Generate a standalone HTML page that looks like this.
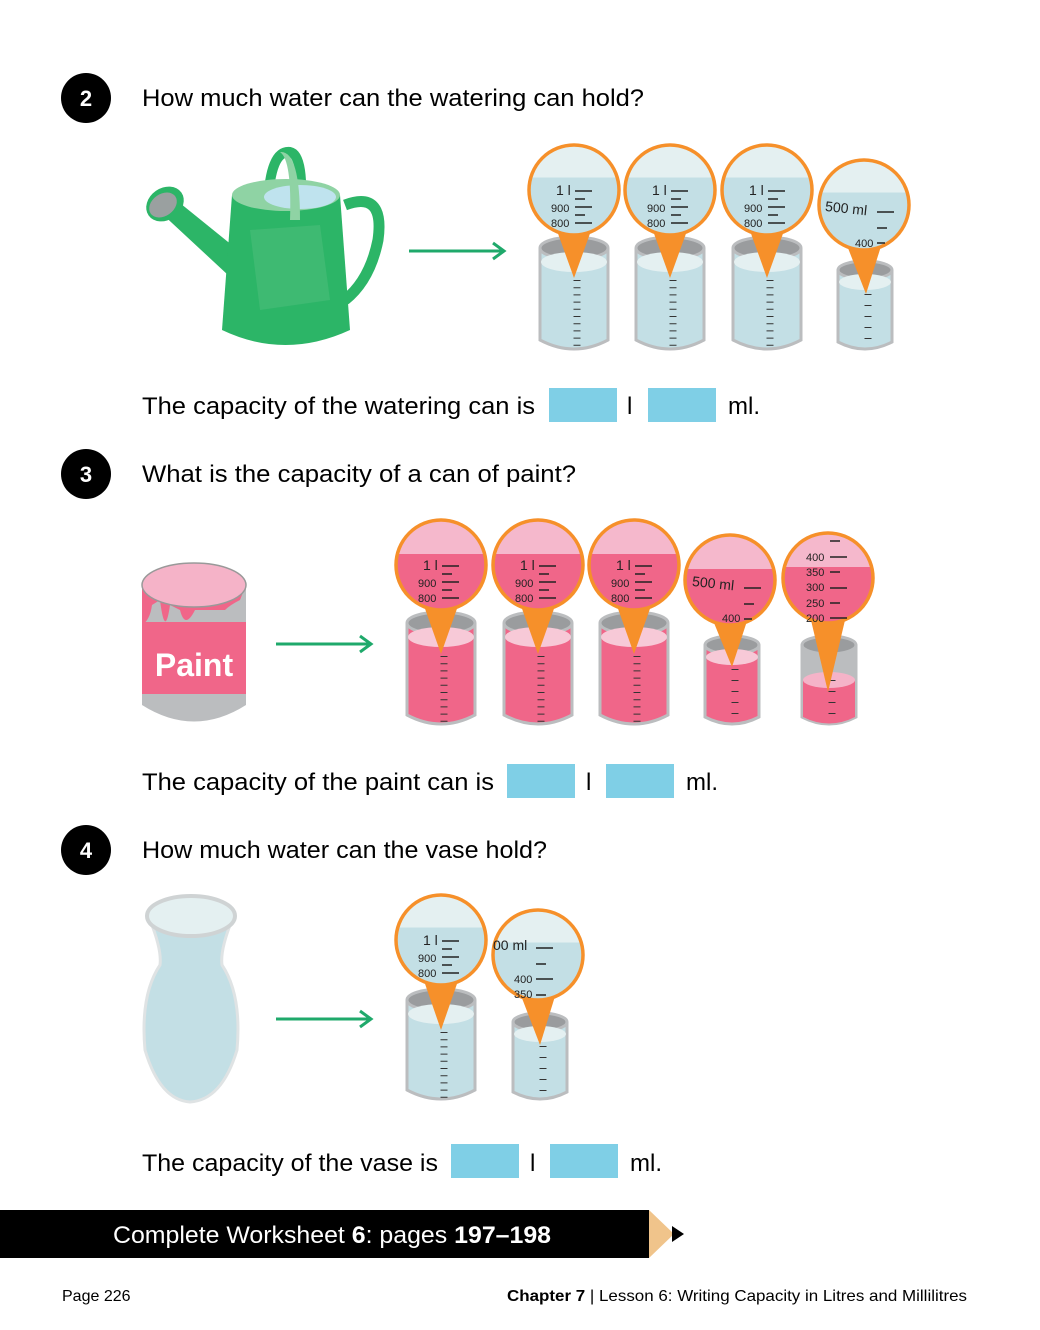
<!DOCTYPE html>
<html><head><meta charset="utf-8"><style>
body{margin:0;width:1040px;height:1330px;background:#fff;overflow:hidden;font-family:"Liberation Sans",sans-serif}
svg{position:absolute;left:0;top:0}
</style></head><body>
<svg width="1040" height="1330" viewBox="0 0 1040 1330" font-family="Liberation Sans, sans-serif">
<defs>
<linearGradient id="gW" x1="0" y1="0" x2="0" y2="1"><stop offset="0" stop-color="#e4f0f1"/><stop offset="0.36" stop-color="#e4f0f1"/><stop offset="0.36" stop-color="#c3dfe5"/><stop offset="1" stop-color="#c3dfe5"/></linearGradient>
<linearGradient id="gP" x1="0" y1="0" x2="0" y2="1"><stop offset="0" stop-color="#f5b8cc"/><stop offset="0.38" stop-color="#f5b8cc"/><stop offset="0.38" stop-color="#f06689"/><stop offset="1" stop-color="#f06689"/></linearGradient>
</defs>

<!-- headings -->
<circle cx="86" cy="98" r="25" fill="#000"/><text x="86" y="106" font-size="22" font-weight="bold" fill="#fff" text-anchor="middle">2</text>
<text x="142" y="106" font-size="24" textLength="502" lengthAdjust="spacingAndGlyphs">How much water can the watering can hold?</text>
<circle cx="86" cy="474" r="25" fill="#000"/><text x="86" y="482" font-size="22" font-weight="bold" fill="#fff" text-anchor="middle">3</text>
<text x="142" y="482" font-size="24" textLength="434" lengthAdjust="spacingAndGlyphs">What is the capacity of a can of paint?</text>
<circle cx="86" cy="850" r="25" fill="#000"/><text x="86" y="858" font-size="22" font-weight="bold" fill="#fff" text-anchor="middle">4</text>
<text x="142" y="858" font-size="24" textLength="405" lengthAdjust="spacingAndGlyphs">How much water can the vase hold?</text>

<!-- answer lines -->
<text x="142" y="414" font-size="24" textLength="393" lengthAdjust="spacingAndGlyphs">The capacity of the watering can is</text>
<rect x="549" y="388" width="68" height="34" fill="#7fcfe6"/><text x="627" y="414" font-size="24">l</text>
<rect x="648" y="388" width="68" height="34" fill="#7fcfe6"/><text x="728" y="414" font-size="24">ml.</text>
<text x="142" y="790" font-size="24" textLength="352" lengthAdjust="spacingAndGlyphs">The capacity of the paint can is</text>
<rect x="507" y="764" width="68" height="34" fill="#7fcfe6"/><text x="586" y="790" font-size="24">l</text>
<rect x="606" y="764" width="68" height="34" fill="#7fcfe6"/><text x="686" y="790" font-size="24">ml.</text>
<text x="142" y="1171" font-size="24" textLength="296" lengthAdjust="spacingAndGlyphs">The capacity of the vase is</text>
<rect x="451" y="1144" width="68" height="34" fill="#7fcfe6"/><text x="530" y="1171" font-size="24">l</text>
<rect x="550" y="1144" width="68" height="34" fill="#7fcfe6"/><text x="630" y="1171" font-size="24">ml.</text>

<!-- arrows -->
<g stroke="#1fa96b" stroke-width="3" fill="none">
<line x1="409" y1="251" x2="503" y2="251"/><polyline points="493,243 504,251 493,259"/>
<line x1="276" y1="644" x2="370" y2="644"/><polyline points="360,636 371,644 360,652"/>
<line x1="276" y1="1019" x2="370" y2="1019"/><polyline points="360,1011 371,1019 360,1027"/>
</g>

<!-- watering can -->
<g>
<path d="M268 205 Q270 150 290 152 Q305 155 300 220" stroke="#2cb567" stroke-width="10" fill="none"/>
<path d="M345 205 Q385 190 378 240 Q370 280 345 300" stroke="#2cb567" stroke-width="11" fill="none"/>
<path d="M238 250 L170 195 L158 210 L228 275 Z" fill="#2cb567"/>
<ellipse cx="165" cy="204" rx="20" ry="16" fill="#2cb567" transform="rotate(-35 165 204)"/>
<ellipse cx="163" cy="205" rx="15" ry="11" fill="#9aa0a0" transform="rotate(-35 163 205)"/>
<path d="M232 195 L340 195 L350 330 Q285 360 222 330 Z" fill="#2cb567"/>
<path d="M250 230 L320 225 L330 300 L260 310 Z" fill="#4fc07e" opacity="0.5"/>
<ellipse cx="286" cy="195" rx="54" ry="16" fill="#8fd3a4"/>
<ellipse cx="300" cy="197" rx="36" ry="12" fill="#bfe3ee"/>
<path d="M280 152 Q300 150 300 220 L290 220 Q292 160 280 152Z" fill="#8fd3a4"/>
</g>

<!-- paint can -->
<g>
<path d="M142 585 L142 705 Q194 738 246 705 L246 585 Z" fill="#bbbdbf"/>
<rect x="142" y="622" width="104" height="72" fill="#f06689"/>
<path d="M142 585 L142 625 Q150 620 152 605 L160 600 Q165 640 170 605 L180 610 Q185 630 195 610 L225 610 Q230 605 240 600 L246 585Z" fill="#f06689"/>
<ellipse cx="194" cy="585" rx="52" ry="22" fill="#f5b3c8" stroke="#999" stroke-width="1.5"/>
<text x="194" y="676" font-size="32" font-weight="bold" fill="#fff" text-anchor="middle">Paint</text>
</g>

<!-- vase -->
<g>
<path d="M150 920 Q162 950 160 965 Q140 995 145 1050 Q160 1100 190 1102 Q222 1100 237 1050 Q242 995 222 965 Q220 950 232 920 Z" fill="#c3dfe5" stroke="#dfe3e4" stroke-width="3"/>
<ellipse cx="191" cy="916" rx="44" ry="20" fill="#e4f0f1" stroke="#cfd3d4" stroke-width="4"/>
</g>

<!-- beakers: water section 2 -->
<g stroke="#bbbdbf" stroke-width="3">
<path d="M540 248 V340 Q574 358 608 340 V248" fill="#c3dfe5"/>
<ellipse cx="574" cy="248" rx="34" ry="11" fill="#9a9c9e"/><ellipse cx="574" cy="262" rx="33" ry="10" fill="#e4f0f1" stroke="none"/>
<path d="M636 248 V340 Q670 358 704 340 V248" fill="#c3dfe5"/>
<ellipse cx="670" cy="248" rx="34" ry="11" fill="#9a9c9e"/><ellipse cx="670" cy="262" rx="33" ry="10" fill="#e4f0f1" stroke="none"/>
<path d="M733 248 V340 Q767 358 801 340 V248" fill="#c3dfe5"/>
<ellipse cx="767" cy="248" rx="34" ry="11" fill="#9a9c9e"/><ellipse cx="767" cy="262" rx="33" ry="10" fill="#e4f0f1" stroke="none"/>
<path d="M838 270 V342 Q865 356 892 342 V270" fill="#c3dfe5"/>
<ellipse cx="865" cy="270" rx="27" ry="9" fill="#9a9c9e"/><ellipse cx="865" cy="282" rx="26" ry="8" fill="#e4f0f1" stroke="none"/>
</g>
<g stroke="#333" stroke-width="7" stroke-dasharray="1 6.2">
<line x1="577" y1="280" x2="577" y2="346"/><line x1="673" y1="280" x2="673" y2="346"/><line x1="770" y1="280" x2="770" y2="346"/><line x1="868" y1="294" x2="868" y2="345" stroke-dasharray="1 10"/>
</g>

<!-- beakers: paint section 3 -->
<g stroke="#bbbdbf" stroke-width="3">
<path d="M407 623 V715 Q441 733 475 715 V623" fill="#f06689"/>
<ellipse cx="441" cy="623" rx="34" ry="11" fill="#9a9c9e"/><ellipse cx="441" cy="637" rx="33" ry="10" fill="#f7c9d7" stroke="none"/>
<path d="M504 623 V715 Q538 733 572 715 V623" fill="#f06689"/>
<ellipse cx="538" cy="623" rx="34" ry="11" fill="#9a9c9e"/><ellipse cx="538" cy="637" rx="33" ry="10" fill="#f7c9d7" stroke="none"/>
<path d="M600 623 V715 Q634 733 668 715 V623" fill="#f06689"/>
<ellipse cx="634" cy="623" rx="34" ry="11" fill="#9a9c9e"/><ellipse cx="634" cy="637" rx="33" ry="10" fill="#f7c9d7" stroke="none"/>
<path d="M705 645 V717 Q732 731 759 717 V645" fill="#f06689"/>
<ellipse cx="732" cy="645" rx="27" ry="9" fill="#9a9c9e"/><ellipse cx="732" cy="657" rx="26" ry="8" fill="#f7c9d7" stroke="none"/>
<path d="M802 645 V717 Q829 731 856 717 V645" fill="#bbbdbf"/>
<ellipse cx="829" cy="645" rx="27" ry="9" fill="#9a9c9e"/>
<path d="M803 680 V717 Q829 730 855 717 V680" fill="#f06689" stroke="none"/><ellipse cx="829" cy="680" rx="26" ry="8" fill="#f5b3c8" stroke="none"/>
</g>
<g stroke="#333" stroke-width="7" stroke-dasharray="1 6.2">
<line x1="444" y1="656" x2="444" y2="722"/><line x1="541" y1="656" x2="541" y2="722"/><line x1="637" y1="656" x2="637" y2="722"/><line x1="735" y1="669" x2="735" y2="720" stroke-dasharray="1 10"/><line x1="832" y1="680" x2="832" y2="720" stroke-dasharray="1 10"/>
</g>

<!-- beakers: vase section 4 -->
<g stroke="#bbbdbf" stroke-width="3">
<path d="M407 1000 V1090 Q441 1108 475 1090 V1000" fill="#c3dfe5"/>
<ellipse cx="441" cy="1000" rx="34" ry="11" fill="#9a9c9e"/><ellipse cx="441" cy="1014" rx="33" ry="10" fill="#e4f0f1" stroke="none"/>
<path d="M513 1022 V1092 Q540 1106 567 1092 V1022" fill="#c3dfe5"/>
<ellipse cx="540" cy="1022" rx="27" ry="9" fill="#9a9c9e"/><ellipse cx="540" cy="1034" rx="26" ry="8" fill="#e4f0f1" stroke="none"/>
</g>
<g stroke="#333" stroke-width="7" stroke-dasharray="1 6.2">
<line x1="444" y1="1032" x2="444" y2="1098"/><line x1="543" y1="1046" x2="543" y2="1096" stroke-dasharray="1 10"/>
</g>

<!-- magnifiers -->
<g fill="#f6902a">
<polygon points="556,228 592,228 574,278"/><polygon points="652,228 688,228 670,278"/><polygon points="749,228 785,228 767,278"/><polygon points="846,243 882,243 866,294"/>
<polygon points="423,603 459,603 441,654"/><polygon points="520,603 556,603 538,654"/><polygon points="616,603 652,603 634,654"/><polygon points="712,618 748,618 732,667"/><polygon points="810,616 846,616 828,692"/>
<polygon points="423,978 459,978 441,1030"/><polygon points="520,993 556,993 540,1045"/>
</g>
<g stroke="#f6902a" stroke-width="3.5">
<circle cx="574" cy="190" r="45" fill="url(#gW)"/><circle cx="670" cy="190" r="45" fill="url(#gW)"/><circle cx="767" cy="190" r="45" fill="url(#gW)"/><circle cx="864" cy="205" r="45" fill="url(#gW)"/>
<circle cx="441" cy="565" r="45" fill="url(#gP)"/><circle cx="538" cy="565" r="45" fill="url(#gP)"/><circle cx="634" cy="565" r="45" fill="url(#gP)"/><circle cx="730" cy="580" r="45" fill="url(#gP)"/><circle cx="828" cy="578" r="45" fill="url(#gP)"/>
<circle cx="441" cy="940" r="45" fill="url(#gW)"/><circle cx="538" cy="955" r="45" fill="url(#gW)"/>
</g>
<g font-size="11" fill="#222">
<text x="556" y="195" font-size="14">1 l</text><text x="551" y="212">900</text><text x="551" y="227">800</text>
<text x="652" y="195" font-size="14">1 l</text><text x="647" y="212">900</text><text x="647" y="227">800</text>
<text x="749" y="195" font-size="14">1 l</text><text x="744" y="212">900</text><text x="744" y="227">800</text>
<text x="825" y="213" font-size="14" transform="rotate(6 845 210)">500 ml</text><text x="855" y="247">400</text>
<text x="423" y="570" font-size="14">1 l</text><text x="418" y="587">900</text><text x="418" y="602">800</text>
<text x="520" y="570" font-size="14">1 l</text><text x="515" y="587">900</text><text x="515" y="602">800</text>
<text x="616" y="570" font-size="14">1 l</text><text x="611" y="587">900</text><text x="611" y="602">800</text>
<text x="692" y="588" font-size="14" transform="rotate(6 712 585)">500 ml</text><text x="722" y="622">400</text>
<text x="806" y="561">400</text><text x="806" y="576">350</text><text x="806" y="591">300</text><text x="806" y="607">250</text><text x="806" y="622">200</text>
<text x="423" y="945" font-size="14">1 l</text><text x="418" y="962">900</text><text x="418" y="977">800</text>
<text x="493" y="950" font-size="14">00 ml</text><text x="514" y="983">400</text><text x="514" y="998">350</text>
</g>
<g stroke="#222" stroke-width="1.5">
<path d="M575 191h17M575 199h10M575 207h17M575 215h10M575 223h17"/>
<path d="M671 191h17M671 199h10M671 207h17M671 215h10M671 223h17"/>
<path d="M768 191h17M768 199h10M768 207h17M768 215h10M768 223h17"/>
<path d="M877 212h17M877 228h10M877 243h8"/>
<path d="M442 566h17M442 574h10M442 582h17M442 590h10M442 598h17"/>
<path d="M539 566h17M539 574h10M539 582h17M539 590h10M539 598h17"/>
<path d="M635 566h17M635 574h10M635 582h17M635 590h10M635 598h17"/>
<path d="M744 588h17M744 604h10M744 619h8"/>
<path d="M830 541h10M830 557h17M830 572h10M830 588h17M830 603h10M830 618h17"/>
<path d="M442 941h17M442 949h10M442 957h17M442 965h10M442 973h17"/>
<path d="M536 948h17M536 964h10M536 979h17M536 995h10"/>
</g>

<!-- footer bar -->
<rect x="0" y="1210" width="649" height="48" fill="#000"/>
<polygon points="649,1210 674,1234 649,1258" fill="#f0c48b"/>
<polygon points="672,1226 684,1234 672,1242" fill="#000"/>
<text x="113" y="1243" font-size="24" fill="#fff" textLength="438" lengthAdjust="spacingAndGlyphs">Complete Worksheet <tspan font-weight="bold">6</tspan>: pages <tspan font-weight="bold">197–198</tspan></text>
<text x="62" y="1301" font-size="16">Page 226</text>
<text x="507" y="1301" font-size="16" textLength="460" lengthAdjust="spacingAndGlyphs"><tspan font-weight="bold">Chapter 7</tspan> | Lesson 6: Writing Capacity in Litres and Millilitres</text>
</svg>
</body></html>
